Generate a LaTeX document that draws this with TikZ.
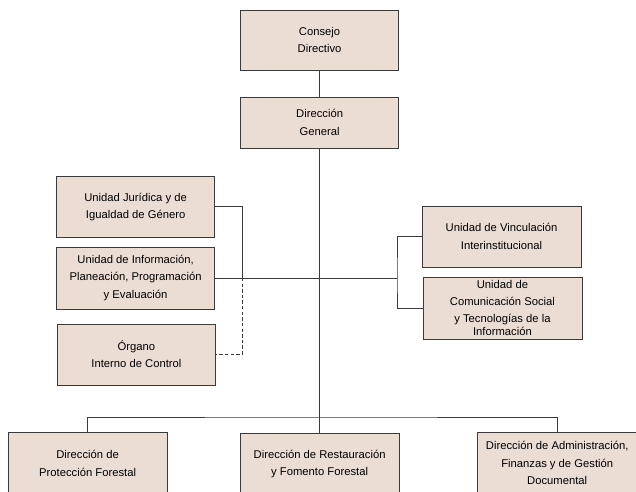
\documentclass[tikz,border=0pt]{standalone}
\usepackage{fontspec}
\setmainfont{Liberation Sans}
\usetikzlibrary{shadows}
\definecolor{orgfill}{HTML}{EBDDD4}
\definecolor{orgline}{HTML}{3A3A3A}

\begin{document}
\begin{tikzpicture}[
 unit/.style={draw=orgline,fill=orgfill,minimum width=3.95cm,minimum height=1.52cm,
   align=center,inner sep=2pt,font=\fontsize{8}{12.4}\selectfont,
   drop shadow={shadow xshift=0.5pt,shadow yshift=-0.5pt,fill=black!55,opacity=1}},
 link/.style={draw=orgline,line width=0.6pt},
 staff/.style={link,dash pattern=on 2.4pt off 1.6pt}
]
\useasboundingbox (0,0) rectangle (15.9,-12.3);
\clip (0,0) rectangle (15.9,-12.3);
% top
\node[unit,minimum height=1.5cm] (cd) at (7.99,-1.0) {Consejo\\Directivo};
\node[unit,minimum height=1.28cm] (dg) at (7.99,-3.06) {Dirección\\General};
% left side units
\node[unit] (uj) at (3.39,-5.17) {Unidad Jurídica y de\\Igualdad de Género};
\node[unit,minimum height=1.55cm] (ui) at (3.39,-6.95) {Unidad de Información,\\Planeación, Programación\\y Evaluación};
\node[unit] (oc) at (3.41,-8.86) {Órgano\\Interno de Control};
% right side units
\node[unit,minimum width=3.98cm] (uv) at (12.54,-5.91) {Unidad de Vinculación\\Interinstitucional};
\node[unit,minimum width=3.98cm,minimum height=1.5cm] (uc) at (12.56,-7.7)
  {Unidad de\\Comunicación Social\\y Tecnologías de la\\[-3.2pt]Información};
% bottom
\node[unit,minimum width=3.98cm,minimum height=1.55cm] (dp) at (2.19,-11.58) {Dirección de\\Protección Forestal};
\node[unit,minimum width=3.98cm,minimum height=1.55cm] (dr) at (7.99,-11.6) {Dirección de Restauración\\y Fomento Forestal};
\node[unit,minimum width=4.0cm,minimum height=1.55cm] (da) at (13.93,-11.58) {Dirección de Administración,\\Finanzas y de Gestión\\Documental};

\coordinate (hl) at (9.925,-6.95);
\coordinate (lj) at (6.05,-6.95);
\coordinate (bus) at (7.99,-10.425);

\draw[link] (cd) -- (dg);
\draw[link] (dg) -- (dr);
\draw[link] (dp.north) |- (bus) -| (da.north);
\draw[link] (ui.east) -- (hl);
\draw[link] (uv.west) -| (hl) |- (uc.west);
\draw[link] (uj.east) -| (lj);
\draw[staff] (lj) |- (oc.east);
\end{tikzpicture}
\end{document}
